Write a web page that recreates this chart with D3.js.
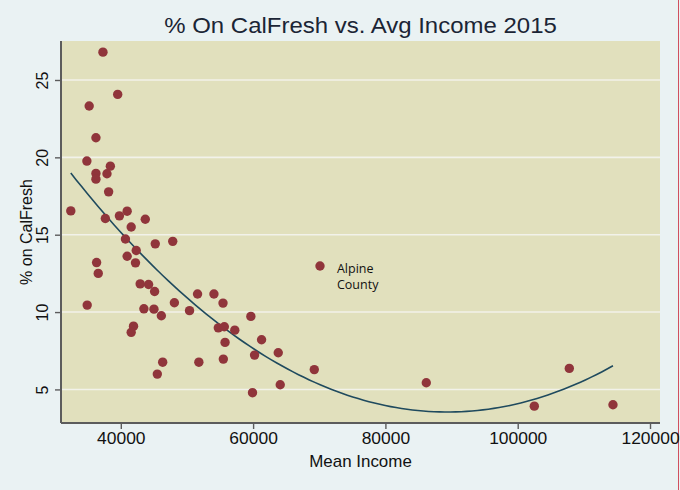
<!DOCTYPE html>
<html>
<head>
<meta charset="utf-8">
<script src="https://cdn.jsdelivr.net/npm/d3@7"></script>
<style>
  body { margin: 0; background: #eaf2f3; }
  svg { display: block; }
</style>
</head>
<body>
<div id="chart-area"></div>
<script>
// Mean income per county (x) and % on CalFresh (y)
var income = [37300, 39530, 35220, 36240, 34870, 38420, 36240, 37910, 36240, 38160,
    32440, 37660, 39790, 40960, 41570, 43700, 40700, 42330, 45210, 47850,
    40960, 42220, 36340, 36590, 42930, 44200, 45110, 34920, 43490, 45010,
    46130, 48100, 51600, 54080, 55450, 50390, 59660, 41920, 41570, 54740,
    55650, 57230, 55760, 61280, 63800, 60220, 46330, 51800, 55500, 45520,
    59910, 64100, 70110, 69250, 86180, 102510, 107800, 114400];
var pctCalFresh = [26.8, 24.07, 23.32, 21.27, 19.76, 19.43, 18.96, 18.94, 18.59, 17.77,
    16.54, 16.05, 16.22, 16.52, 15.5, 16.0, 14.72, 13.98, 14.41, 14.57,
    13.61, 13.18, 13.2, 12.5, 11.82, 11.78, 11.33, 10.45, 10.21, 10.19,
    9.76, 10.6, 11.17, 11.17, 10.58, 10.09, 9.72, 9.09, 8.69, 8.98,
    9.05, 8.83, 8.04, 8.21, 7.37, 7.22, 6.76, 6.76, 6.96, 5.99,
    4.79, 5.3, 12.98, 6.28, 5.43, 3.92, 6.36, 4.01];
var xTicks = [40000, 60000, 80000, 100000, 120000];
var yTicks = [5, 10, 15, 20, 25];
var labelIndex = 52;
var labelLines = ["Alpine", "County"];

var W = 680, H = 490;
var plot = { left: 61, right: 660, top: 41, bottom: 423 };
var stretch = 1.09;   // the source image is a little wider than Arial

var svg = d3.select("#chart-area")
    .append("svg")
        .attr("width", W)
        .attr("height", H);

svg.append("rect")
    .attr("width", W).attr("height", H)
    .attr("fill", "#eaf2f3");

// right edge line of the screenshot
svg.append("line")
    .attr("x1", 678.5).attr("x2", 678.5)
    .attr("y1", 0).attr("y2", H)
    .attr("stroke", "#d0505e")
    .attr("stroke-width", 1);

// Scales
var x = d3.scaleLinear()
    .domain([30960, 121510])
    .range([plot.left, plot.right]);
var y = d3.scaleLinear()
    .domain([2.83, 27.52])
    .range([plot.bottom, plot.top]);

svg.append("rect")
    .attr("x", plot.left).attr("y", plot.top)
    .attr("width", plot.right - plot.left)
    .attr("height", plot.bottom - plot.top)
    .attr("fill", "#e1e0bd");

// Grid lines
svg.append("g")
    .selectAll("line")
    .data(yTicks)
    .enter().append("line")
        .attr("x1", plot.left).attr("x2", plot.right)
        .attr("y1", function(d){ return y(d); })
        .attr("y2", function(d){ return y(d); })
        .attr("stroke", "#f2f2ea")
        .attr("stroke-width", 1.6);

// X Axis
var xAxisCall = d3.axisBottom(x)
    .tickValues(xTicks)
    .tickSize(6)
    .tickPadding(4)
    .tickFormat(d3.format("d"));
var xAxis = svg.append("g")
    .attr("transform", "translate(0," + plot.bottom + ")")
    .call(xAxisCall);
xAxis.select(".domain").remove();
xAxis.append("line")
    .attr("x1", plot.left).attr("x2", plot.right)
    .attr("stroke", "#5c5c5c").attr("stroke-width", 2);
xAxis.selectAll(".tick line").attr("stroke", "#5c5c5c").attr("stroke-width", 1.4);
xAxis.selectAll(".tick text")
    .attr("transform", "scale(" + stretch + ",1)")
    .attr("font-family", "Liberation Sans, Arial, sans-serif")
    .attr("font-size", "16px")
    .attr("fill", "#111");

// Y Axis
var yAxisCall = d3.axisLeft(y)
    .tickValues(yTicks)
    .tickSize(6)
    .tickFormat(function(d){ return +d; });
var yAxis = svg.append("g")
    .attr("transform", "translate(" + plot.left + ",0)")
    .call(yAxisCall);
yAxis.select(".domain").remove();
yAxis.append("line")
    .attr("y1", plot.top).attr("y2", plot.bottom)
    .attr("stroke", "#5c5c5c").attr("stroke-width", 2);
yAxis.selectAll(".tick line").attr("stroke", "#5c5c5c").attr("stroke-width", 1.4);
yAxis.selectAll(".tick text")
    .attr("x", null).attr("dy", null)
    .attr("transform", "translate(-13,0) rotate(-90)")
    .attr("text-anchor", "middle")
    .attr("font-family", "Liberation Sans, Arial, sans-serif")
    .attr("font-size", "16px")
    .attr("fill", "#111");

// Quadratic fit (least squares on the points above)
function qfit(xs, ys) {
    var s = [0, 0, 0, 0, 0], t = [0, 0, 0];
    xs.forEach(function(v, i){
        var u = v / 10000;
        for (var k = 0; k < 5; k++) s[k] += Math.pow(u, k);
        for (var k = 0; k < 3; k++) t[k] += ys[i] * Math.pow(u, k);
    });
    var A = [[s[0], s[1], s[2], t[0]], [s[1], s[2], s[3], t[1]], [s[2], s[3], s[4], t[2]]];
    for (var i = 0; i < 3; i++) {
        for (var j = i + 1; j < 3; j++) {
            var f = A[j][i] / A[i][i];
            for (var k = i; k < 4; k++) A[j][k] -= f * A[i][k];
        }
    }
    var c = [0, 0, 0];
    for (var i = 2; i >= 0; i--) {
        var v = A[i][3];
        for (var k = i + 1; k < 3; k++) v -= A[i][k] * c[k];
        c[i] = v / A[i][i];
    }
    return function(v){ var u = v / 10000; return c[0] + c[1] * u + c[2] * u * u; };
}
var fit = qfit(income, pctCalFresh);
var ext = d3.extent(income);
var fitPts = d3.range(0, 101).map(function(i){
    var v = ext[0] + (ext[1] - ext[0]) * i / 100;
    return [v, fit(v)];
});
svg.append("path")
    .datum(fitPts)
    .attr("fill", "none")
    .attr("stroke", "#1f4a5e")
    .attr("stroke-width", 1.6)
    .attr("d", d3.line()
        .x(function(d){ return x(d[0]); })
        .y(function(d){ return y(d[1]); }));

// Points
svg.append("g")
    .selectAll("circle")
    .data(income)
    .enter().append("circle")
        .attr("cx", function(d){ return x(d); })
        .attr("cy", function(d, i){ return y(pctCalFresh[i]); })
        .attr("r", 4.7)
        .attr("fill", "#90353b");

// Point label
var lbl = svg.append("text")
    .attr("x", x(income[labelIndex]) + 17)
    .attr("y", y(pctCalFresh[labelIndex]) + 7)
    .attr("font-family", "Open Sans, sans-serif")
    .attr("font-size", "12.5px")
    .attr("fill", "#111");
labelLines.forEach(function(t, i){
    lbl.append("tspan")
        .attr("x", x(income[labelIndex]) + 17)
        .attr("dy", i === 0 ? 0 : 16.5)
        .text(t);
});

// Labels
var cx = (plot.left + plot.right) / 2;
svg.append("text")
    .attr("transform", "translate(" + cx + ",33) scale(" + stretch + ",1)")
    .attr("text-anchor", "middle")
    .attr("font-family", "Liberation Sans, Arial, sans-serif")
    .attr("font-size", "22px")
    .attr("fill", "#1b2535")
    .text("% On CalFresh vs. Avg Income 2015");
svg.append("text")
    .attr("transform", "translate(" + cx + ",467) scale(1.06,1)")
    .attr("text-anchor", "middle")
    .attr("font-family", "Liberation Sans, Arial, sans-serif")
    .attr("font-size", "16px")
    .attr("fill", "#111")
    .text("Mean Income");
svg.append("text")
    .attr("transform", "translate(32," + ((plot.top + plot.bottom) / 2) + ") rotate(-90)")
    .attr("text-anchor", "middle")
    .attr("font-family", "Liberation Sans, Arial, sans-serif")
    .attr("font-size", "16px")
    .attr("fill", "#111")
    .text("% on CalFresh");
</script>
</body>
</html>
